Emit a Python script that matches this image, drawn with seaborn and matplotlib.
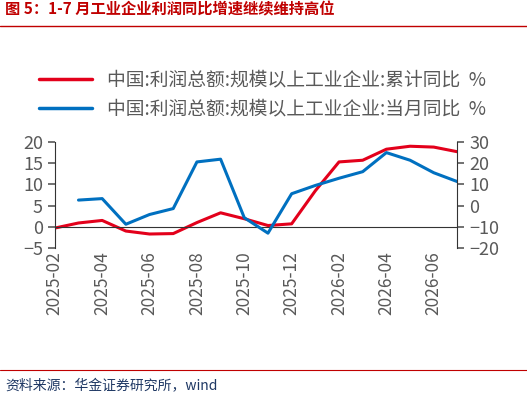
import matplotlib
matplotlib.use("Agg")
import matplotlib.pyplot as plt
import seaborn as sns
import pandas as pd
import numpy as np

months = ["2025-02","2025-03","2025-04","2025-05","2025-06","2025-07","2025-08","2025-09","2025-10",
          "2025-11","2025-12","2026-01","2026-02","2026-03","2026-04","2026-05","2026-06","2026-07"]
cum = [-0.3,0.9,1.5,-1.0,-1.7,-1.6,1.0,3.3,1.9,0.3,0.7,8.5,15.3,15.7,18.3,19.0,18.8,17.7]
mon = [np.nan,2.6,3.3,-8.8,-4.2,-1.4,20.6,21.9,-5.7,-13.0,5.6,9.5,12.9,16.0,25.0,21.4,15.5,11.3]
tick_labels = months[::2]

sns.set_style("white")
plt.rcParams['font.family'] = ['Noto Sans CJK SC', 'DejaVu Sans']
df = pd.DataFrame({"x": np.arange(len(months)), "cum": cum, "mon": mon})

fig = plt.figure(figsize=(5.27, 4.0), dpi=100)
ax = fig.add_axes([0.104, 0.38, 0.764, 0.265])
ax2 = ax.twinx()
red = "#E3001B"; blue = "#0070C0"; grey = "#595959"
sns.lineplot(data=df, x="x", y="cum", ax=ax, color=red, lw=2.2, label=None)
sns.lineplot(data=df, x="x", y="mon", ax=ax2, color=blue, lw=2.2, label=None)
ax.set_xlim(0, len(months)-1)
ax.set_ylim(-5, 20); ax.set_yticks([-5,0,5,10,15,20])
ax2.set_ylim(-20, 30); ax2.set_yticks([-20,-10,0,10,20,30])
ax.set_xticks(np.arange(0, len(months), 2))
for a in (ax, ax2):
    a.set_xlabel(""); a.set_ylabel("")
    a.tick_params(axis='y', labelsize=13, colors=grey, length=5, width=1.2)
    for s in a.spines.values(): s.set_visible(False)
ax.spines['left'].set_visible(True); ax.spines['left'].set_color('#333333')
ax2.spines['right'].set_visible(True); ax2.spines['right'].set_color('#333333')
ax.spines['bottom'].set_visible(True); ax.spines['bottom'].set_position(('data', 0))
ax.spines['bottom'].set_color('#333333')
ax.tick_params(axis='x', colors=grey, direction='in', length=5, width=1.2)
ax.set_xticklabels([])
trans = ax.get_xaxis_transform()
for i, t in zip(np.arange(0, len(months), 2), tick_labels):
    ax.text(i, -0.03, t, transform=trans, rotation=90, ha='center', va='top', fontsize=12.5, color=grey)

ax.plot([], [], color=red, lw=2.5, label="中国:利润总额:规模以上工业企业:累计同比  %")
ax.plot([], [], color=blue, lw=2.5, label="中国:利润总额:规模以上工业企业:当月同比  %")
leg = ax.legend(loc='lower left', bbox_to_anchor=(-0.08, 1.05), frameon=False, fontsize=13.5,
                handlelength=2.8, labelspacing=0.45)
for t in leg.get_texts(): t.set_color(grey)

fig.text(0.01, 0.965, "图 5：1-7 月工业企业利润同比增速继续维持高位", fontsize=11, color="#C00000", weight='bold')
fig.add_artist(plt.Line2D([0, 1], [0.935, 0.935], color="#C00000", lw=1, transform=fig.transFigure))
fig.add_artist(plt.Line2D([0, 1], [0.075, 0.075], color="#C00000", lw=0.8, transform=fig.transFigure))
fig.text(0.01, 0.025, "资料来源：华金证券研究所，wind", fontsize=10, color="#1F3864", style='italic')
fig.savefig("out.png", dpi=100)
